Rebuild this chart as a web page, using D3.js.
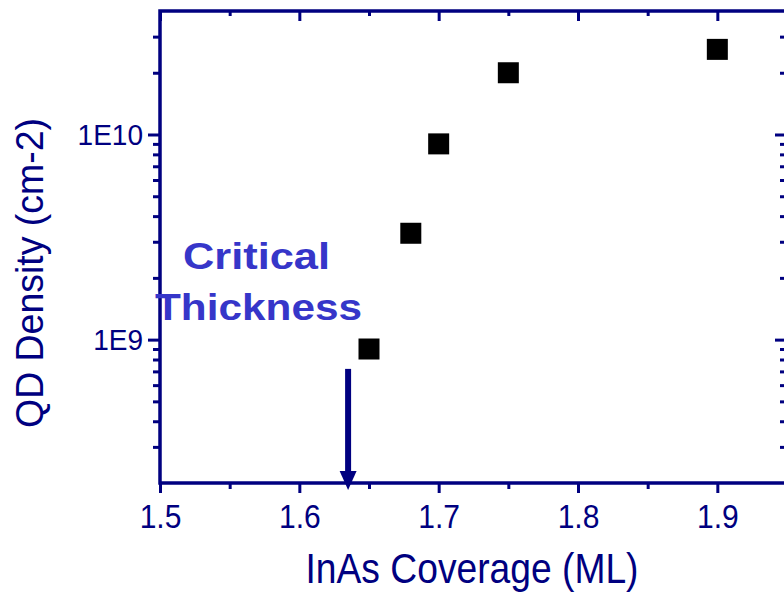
<!DOCTYPE html>
<html>
<head>
<meta charset="utf-8">
<script src="https://cdn.jsdelivr.net/npm/d3@7"></script>
<style>
  html, body { margin: 0; padding: 0; background: #fff; }
  svg { display: block; }
  text { font-family: "Liberation Sans", Arial, sans-serif; }
</style>
</head>
<body>
<svg id="chart" width="784" height="593"></svg>
<script>
// InAs coverage (ML) vs. quantum-dot density (cm^-2)
const coverage = [1.65, 1.68, 1.70, 1.75, 1.90];
const density  = [9.0e8, 3.3e9, 9.0e9, 2.0e10, 2.6e10];

const xMajorTicks = [1.5, 1.6, 1.7, 1.8, 1.9];
const xMinorTicks = [1.55, 1.65, 1.75, 1.85, 1.95];
const yMajorTicks = [1e9, 1e10];
const yMajorLabels = ["1E9", "1E10"];
const yMinorTicks = [3e8, 4e8, 5e8, 6e8, 7e8, 8e8, 9e8,
                     2e9, 3e9, 4e9, 5e9, 6e9, 7e9, 8e9, 9e9,
                     2e10, 3e10];

const xDomain = [1.5, 1.95];
const yDomain = [2e8, 4e10];

// critical-thickness marker
const criticalCoverage = 1.635;
const arrowTopDensity = 7.2e8;
const annotationLines = ["Critical", "Thickness"];

const navy = "#000080";
const noteBlue = "#3636c9";

const svg = d3.select("#chart");
const plotLeft = 160, plotRight = 787, plotTop = 11, plotBottom = 483;

const x = d3.scaleLinear().domain(xDomain).range([plotLeft, plotRight]);
const y = d3.scaleLog().domain(yDomain).range([plotBottom, plotTop]);

function styleAxis(g) {
  g.select(".domain").remove();
  g.selectAll(".tick line").attr("stroke", navy).attr("stroke-width", 3);
  g.selectAll(".tick text").attr("fill", navy);
}

// squeeze glyphs horizontally so text is taller than its set width suggests
function condense(sel, ratio) {
  sel.each(function () {
    const w = this.getComputedTextLength();
    d3.select(this).attr("textLength", w * ratio).attr("lengthAdjust", "spacingAndGlyphs");
  });
}

// bottom axis: outward ticks with labels
svg.append("g").attr("transform", `translate(0,${plotBottom})`)
  .call(d3.axisBottom(x).tickValues(xMajorTicks).tickSize(10).tickPadding(0)
        .tickFormat(d3.format(".1f")))
  .call(styleAxis)
  .call(g => g.selectAll(".tick text")
    .attr("font-size", 34).attr("dy", null).attr("y", 45)
    .call(condense, 30 / 34));
svg.append("g").attr("transform", `translate(0,${plotBottom})`)
  .call(d3.axisBottom(x).tickValues(xMinorTicks).tickSize(6).tickFormat(""))
  .call(styleAxis);

// top axis: inward ticks
svg.append("g").attr("transform", `translate(0,${plotTop})`)
  .call(d3.axisTop(x).tickValues(xMajorTicks).tickSize(-10).tickFormat(""))
  .call(styleAxis);
svg.append("g").attr("transform", `translate(0,${plotTop})`)
  .call(d3.axisTop(x).tickValues(xMinorTicks).tickSize(-5).tickFormat(""))
  .call(styleAxis);

// left axis: outward ticks with labels
svg.append("g").attr("transform", `translate(${plotLeft},0)`)
  .call(d3.axisLeft(y).tickValues(yMajorTicks).tickSize(12).tickPadding(5)
        .tickFormat((d, i) => yMajorLabels[i]))
  .call(styleAxis)
  .call(g => g.selectAll(".tick text").attr("font-size", 29).attr("dy", "0.33em")
    .call(condense, 28 / 29));
svg.append("g").attr("transform", `translate(${plotLeft},0)`)
  .call(d3.axisLeft(y).tickValues(yMinorTicks).tickSize(7).tickFormat(""))
  .call(styleAxis);

// right axis: inward ticks
svg.append("g").attr("transform", `translate(${plotRight},0)`)
  .call(d3.axisRight(y).tickValues(yMajorTicks).tickSize(-12).tickFormat(""))
  .call(styleAxis);
svg.append("g").attr("transform", `translate(${plotRight},0)`)
  .call(d3.axisRight(y).tickValues(yMinorTicks).tickSize(-7).tickFormat(""))
  .call(styleAxis);

// frame
svg.append("rect")
  .attr("x", plotLeft).attr("y", plotTop)
  .attr("width", plotRight - plotLeft).attr("height", plotBottom - plotTop)
  .attr("fill", "none").attr("stroke", navy).attr("stroke-width", 3.5);

// data squares
const size = 21;
svg.append("g").selectAll("rect")
  .data(coverage.map((c, i) => [c, density[i]]))
  .join("rect")
  .attr("x", d => x(d[0]) - size / 2)
  .attr("y", d => y(d[1]) - size / 2)
  .attr("width", size).attr("height", size)
  .attr("fill", "#000");

// annotation text
const note = svg.append("g").attr("fill", noteBlue)
  .attr("font-family", "'DejaVu Sans', Verdana, sans-serif")
  .attr("font-weight", "bold").attr("font-size", 37);
note.append("text").attr("x", 183).attr("y", 269)
  .attr("textLength", 147).attr("lengthAdjust", "spacingAndGlyphs")
  .text(annotationLines[0]);
note.append("text").attr("x", 155).attr("y", 320)
  .attr("textLength", 207).attr("lengthAdjust", "spacingAndGlyphs")
  .text(annotationLines[1]);

// arrow pointing at the critical coverage
const ax = x(criticalCoverage);
const headTop = plotBottom - 12;
svg.append("line")
  .attr("x1", ax).attr("x2", ax)
  .attr("y1", y(arrowTopDensity)).attr("y2", headTop + 2)
  .attr("stroke", navy).attr("stroke-width", 6);
svg.append("path")
  .attr("d", `M${ax - 8.5},${headTop} L${ax + 8.5},${headTop} L${ax},${plotBottom + 7} Z`)
  .attr("fill", navy);

// axis titles
svg.append("text")
  .attr("x", 472).attr("y", 583)
  .attr("text-anchor", "middle").attr("font-size", 42).attr("fill", navy)
  .attr("textLength", 333).attr("lengthAdjust", "spacingAndGlyphs")
  .text("InAs Coverage (ML)");
svg.append("text")
  .attr("transform", "translate(43,273) rotate(-90)")
  .attr("text-anchor", "middle").attr("font-size", 39).attr("fill", navy)
  .attr("textLength", 310).attr("lengthAdjust", "spacingAndGlyphs")
  .text("QD Density (cm-2)");
</script>
</body>
</html>
